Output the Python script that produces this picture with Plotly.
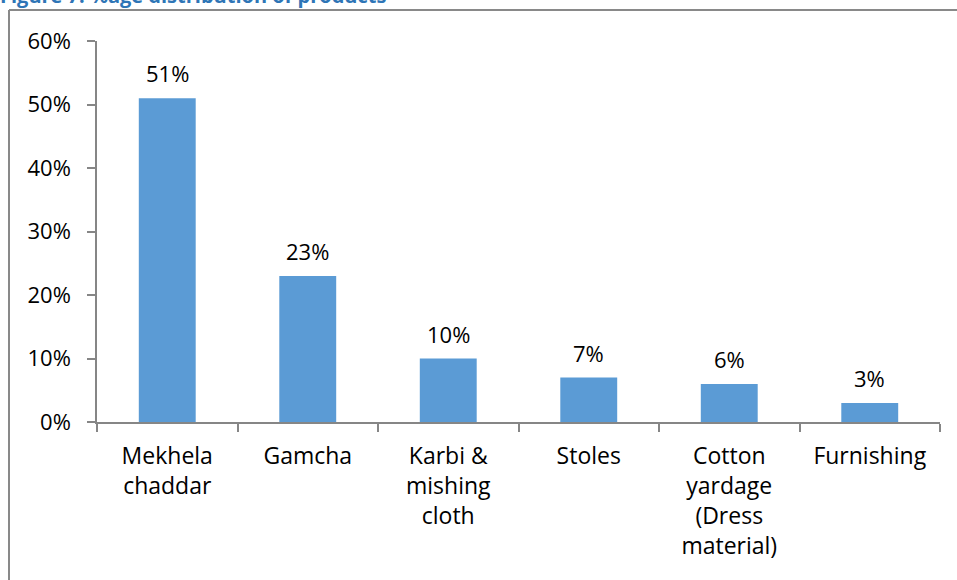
import plotly.graph_objects as go

# Share of products (%)
categories = [
    "Mekhela<br>chaddar",
    "Gamcha",
    "Karbi &<br>mishing<br>cloth",
    "Stoles",
    "Cotton<br>yardage<br>(Dress<br>material)",
    "Furnishing",
]
shares = [51, 23, 10, 7, 6, 3]
y_ticks = [0, 10, 20, 30, 40, 50, 60]

BAR = "#5B9BD5"
AXIS = "#868686"
FONT = "Open Sans, Liberation Sans, sans-serif"

fig = go.Figure(
    go.Bar(
        x=categories,
        y=shares,
        marker=dict(color=BAR, line=dict(width=0)),
        hoverinfo="skip",
    )
)

# value labels above each bar
for c, v in zip(categories, shares):
    fig.add_annotation(
        x=c, y=v, text=f"{v}%", showarrow=False,
        yanchor="middle", yshift=25,
        font=dict(family=FONT, size=22, color="#000000"),
    )

# figure caption, partly above the page edge
fig.add_annotation(
    xref="paper", yref="paper", x=-0.117, y=(422 + 4.5) / 381,
    xanchor="left", yanchor="middle", showarrow=False,
    text="<b>Figure 7: %age distribution of products</b>",
    font=dict(family=FONT, size=20, color="#2E75B6"),
)

# chart frame (left and top edges)
fig.add_shape(type="line", xref="paper", yref="paper",
              x0=(9 - 97) / 843, x1=(9 - 97) / 843,
              y0=(422 - 10) / 381, y1=-1,
              line=dict(color="#898989", width=2))
fig.add_shape(type="line", xref="paper", yref="paper",
              x0=(9 - 97) / 843, x1=2,
              y0=(422 - 10) / 381, y1=(422 - 10) / 381,
              line=dict(color="#898989", width=2))

fig.update_layout(
    width=957, height=580,
    margin=dict(l=97, r=17, t=41, b=158),
    paper_bgcolor="white", plot_bgcolor="white",
    bargap=0.595,
    showlegend=False,
    font=dict(family=FONT, size=22, color="#000000"),
    xaxis=dict(
        type="category",
        showline=True, linecolor=AXIS, linewidth=1.5,
        ticks="outside", tickson="boundaries", ticklen=8,
        tickcolor=AXIS, tickwidth=1.5,
        showgrid=False, zeroline=False,
        tickfont=dict(family=FONT, size=23, color="#000000"),
        ticklabelstandoff=13,
    ),
    yaxis=dict(
        range=[0, 60],
        tickvals=y_ticks,
        ticktext=[f"{t}%" for t in y_ticks],
        showline=True, linecolor=AXIS, linewidth=1.5,
        ticks="outside", ticklen=8, tickcolor=AXIS, tickwidth=1.5,
        showgrid=False, zeroline=False,
        ticklabelstandoff=12,
    ),
)

fig.write_html("out.html")
